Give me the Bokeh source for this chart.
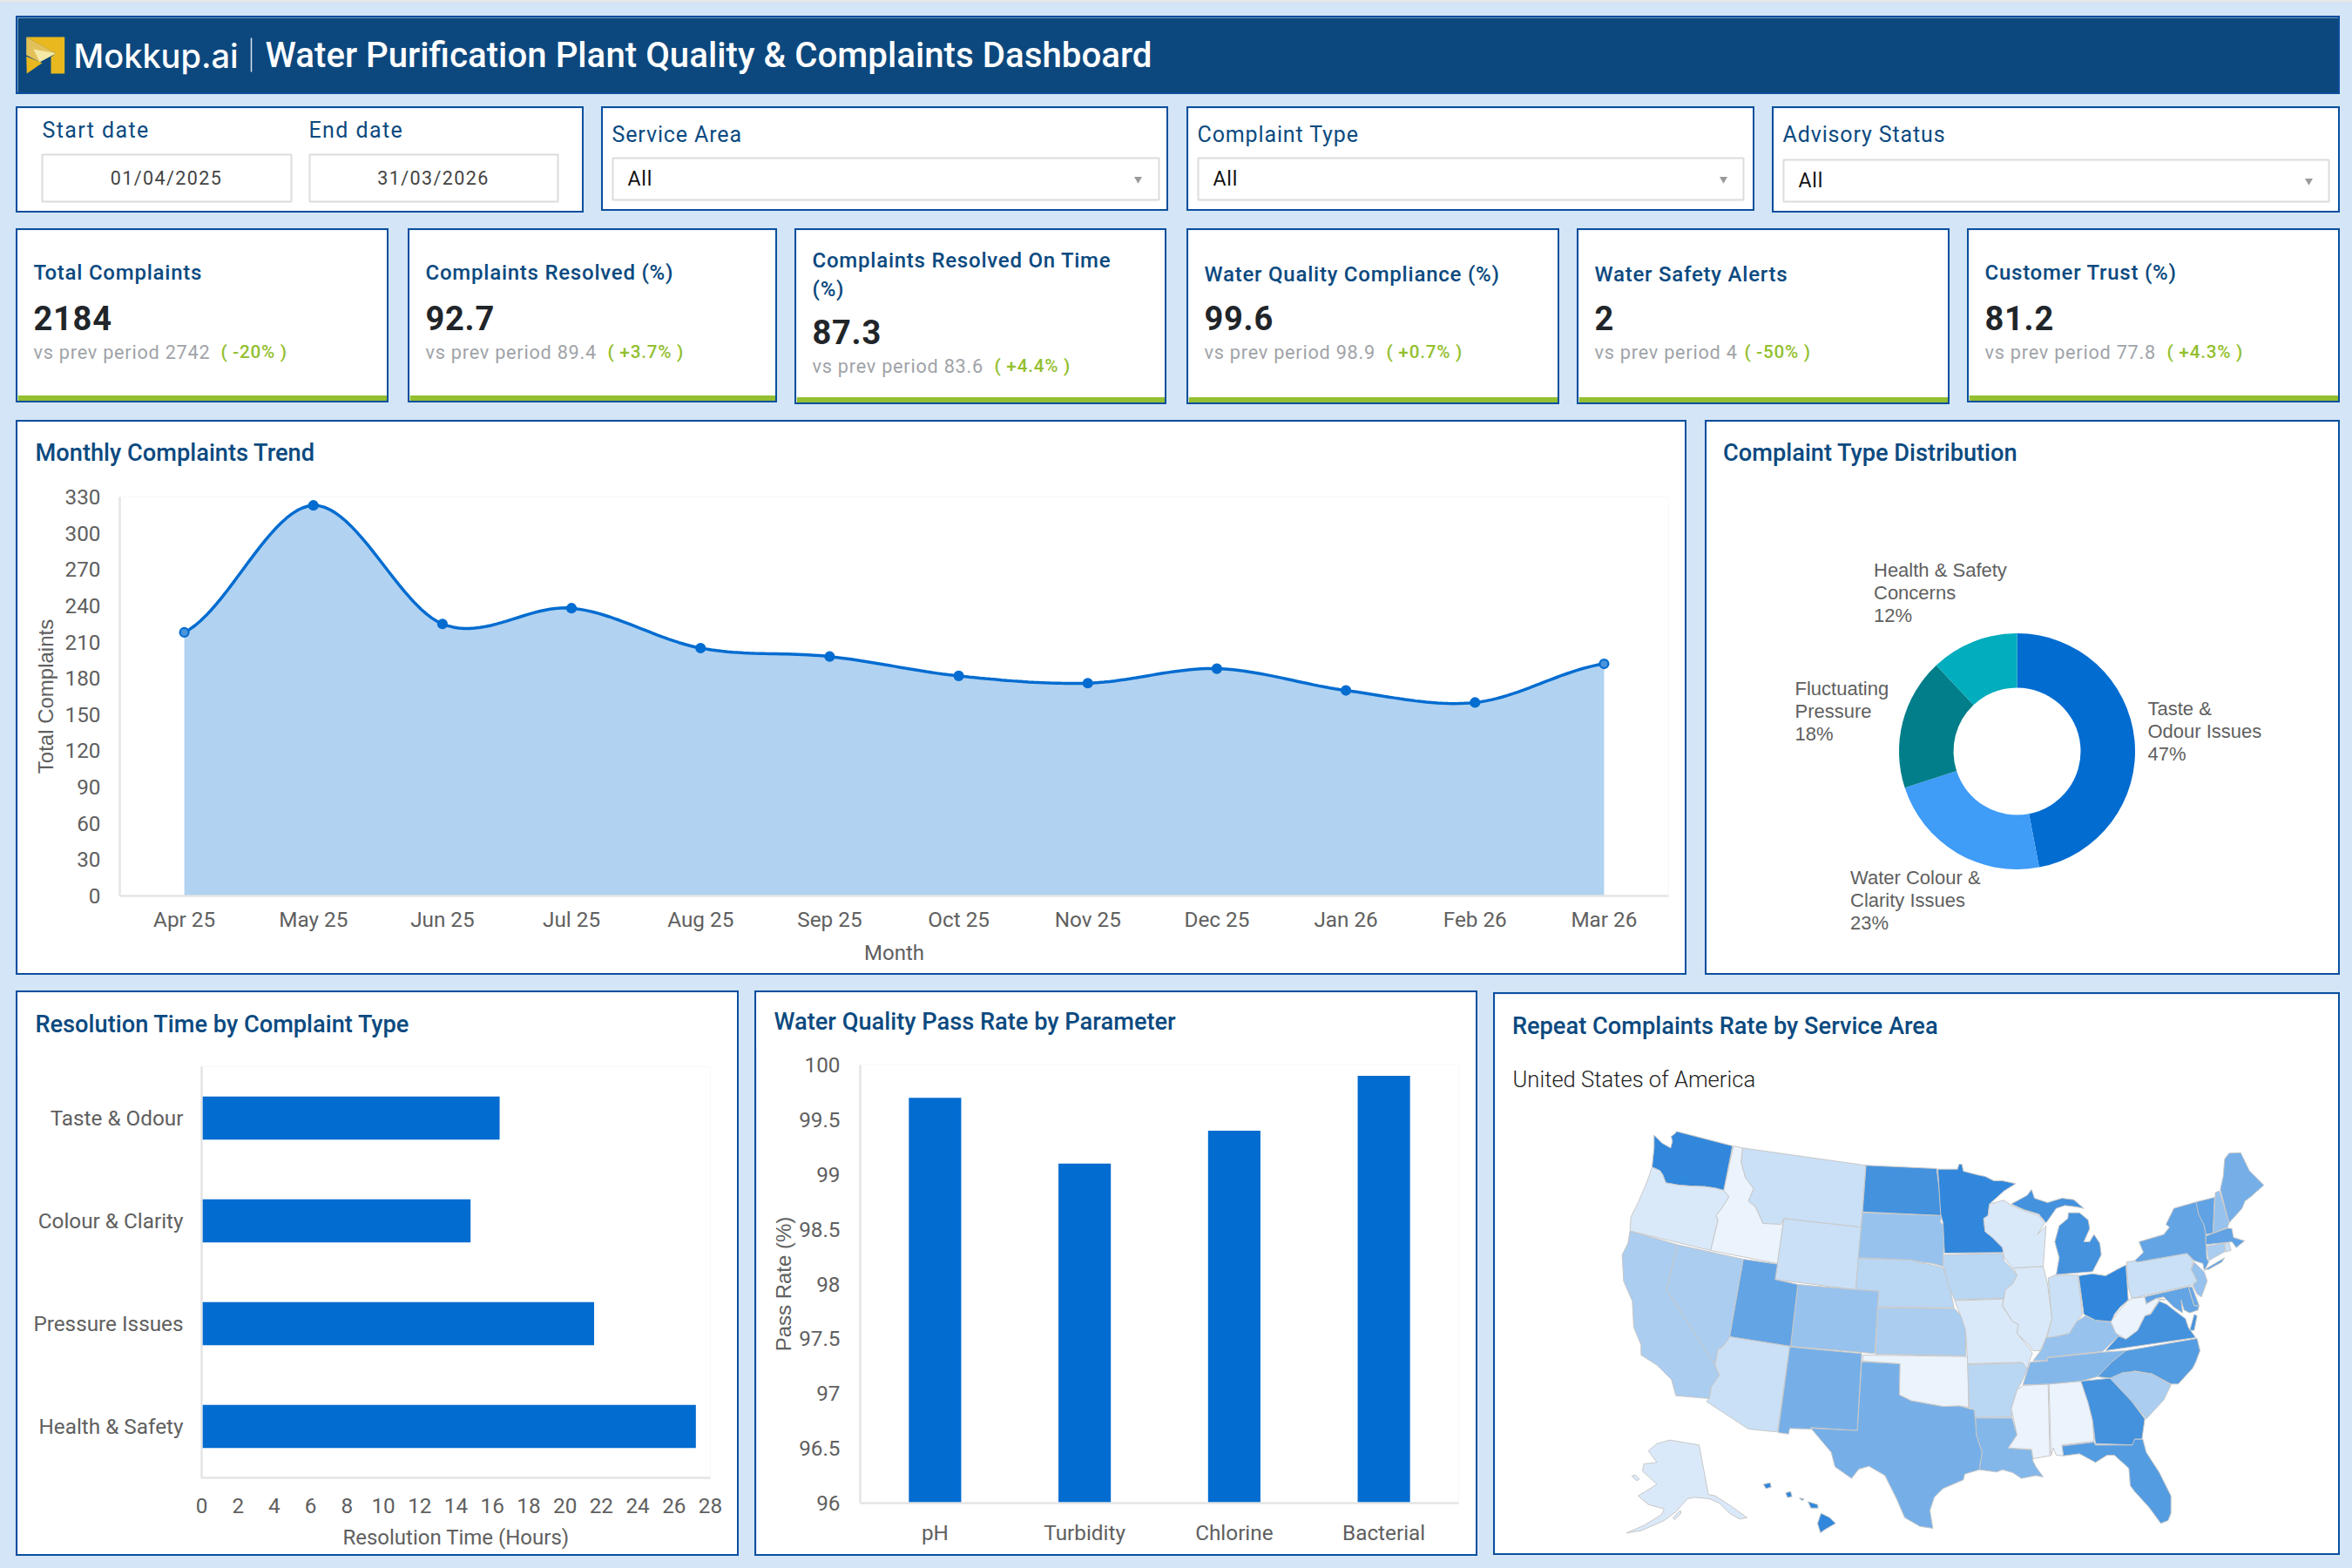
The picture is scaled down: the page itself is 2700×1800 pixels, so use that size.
from bokeh.embed import file_html
from bokeh.resources import INLINE
from bokeh.plotting import figure
from bokeh.models import Label, Range1d, FactorRange, FixedTicker
import math

# ------------------------------------------------ data
months = ["Apr 25","May 25","Jun 25","Jul 25","Aug 25","Sep 25","Oct 25","Nov 25","Dec 25","Jan 26","Feb 26","Mar 26"]
monthly_complaints = [218,323,225,238,205,198,182,176,188,170,160,192]
donut_names = [["Taste &","Odour Issues"],["Water Colour &","Clarity Issues"],["Fluctuating","Pressure"],["Health & Safety","Concerns"]]
donut_share = [47,23,18,12]
res_types = ["Taste & Odour","Colour & Clarity","Pressure Issues","Health & Safety"]
res_hours = [16.4,14.8,21.6,27.2]
params = ["pH","Turbidity","Chlorine","Bacterial"]
pass_rate = [99.7,99.1,99.4,99.9]
kpi_titles = [["Total Complaints"],["Complaints Resolved (%)"],["Complaints Resolved On Time","(%)"],["Water Quality Compliance (%)"],["Water Safety Alerts"],["Customer Trust (%)"]]
kpi_values = ["2184","92.7","87.3","99.6","2","81.2"]
kpi_prev = ["2742","89.4","83.6","98.9","4","77.8"]
kpi_delta = ["-20%","+3.7%","+4.4%","+0.7%","-50%","+4.3%"]

# shade of every state (0 = lightest, 10 = darkest)
state_rate = dict(WA=10,OR=0.9,ID=0,MT=1.8,WY=1.8,ND=9,SD=4.5,NE=2.7,CO=4.5,UT=7.3,NV=3.5,CA=3.5,AZ=1.8,NM=6.3,TX=6.3,OK=0,KS=3.5,
                  MN=10,IA=2.7,MO=0.9,AR=2.7,LA=5.6,MS=0,AL=0,TN=5.6,KY=4.5,IL=0.9,IN=1.8,OH=10,MI=9,WI=0.9,PA=1.8,NY=7.3,NJ=4.5,
                  MD=7.3,DE=7,VA=9,WV=0,NC=8.1,SC=3.5,GA=9,FL=8.1,VT=7.5,NH=4.5,ME=6.3,MA=7.5,CT=3.5,RI=1.8,AK=0.9,HI=10)

# state outlines (map units); WEST block and EAST block differ by a shift
WEST = dict(
 WA=[[(205,68),(232,95),(262,112),(268,90),(264,72),(278,62),(282,55),(475,105),(445,258),(415,250),(380,245),(330,243),(290,240),(245,232),(235,205),(225,190),(198,178),(205,110)]],
 OR=[[(198,178),(225,190),(235,205),(245,232),(290,240),(330,243),(380,245),(415,250),(445,258),(463,280),(438,320),(418,345),(425,360),(400,465),(122,398),(125,350),(150,300),(180,230)]],
 ID=[[(478,105),(510,112),(505,160),(520,215),(548,252),(530,295),(555,315),(580,372),(640,372),(652,358),(630,510),(400,465),(425,360),(418,345),(438,320),(463,280),(445,258)]],
 MT=[[(510,112),(935,172),(918,385),(652,355),(642,375),(580,372),(555,315),(530,295),(548,252),(520,215),(505,160)]],
 WY=[[(652,355),(918,385),(900,600),(622,565)]],
 ND=[[(935,172),(1178,183),(1198,345),(923,332)]],
 SD=[[(923,335),(1198,345),(1190,365),(1205,385),(1200,520),(1165,510),(1125,505),(1090,498),(908,490)]],
 NE=[[(908,492),(1090,498),(1125,508),(1165,515),(1200,525),(1220,575),(1238,662),(975,660),(978,605),(900,600)]],
 CO=[[(700,582),(900,600),(978,605),(965,820),(675,795)]],
 UT=[[(512,495),(630,512),(622,565),(700,582),(675,795),(465,762)]],
 NV=[[(285,445),(512,495),(465,762),(458,775),(440,798),(425,805),(415,860),(248,600)]],
 CA=[[(122,398),(285,445),(248,600),(415,860),(430,895),(402,935),(395,975),(280,965),(265,910),(215,860),(160,825),(160,790),(135,730),(130,640),(100,570),(95,480),(115,440)]],
 AZ=[[(465,762),(672,795),(630,1090),(530,1080),(385,985),(395,975),(402,935),(430,895),(415,860),(425,805),(440,798),(458,775)]],
 NM=[[(672,797),(920,820),(905,1085),(745,1075),(745,1080),(672,1078),(668,1097),(632,1092)]],
 TX=[[(920,848),(1052,855),(1050,962),(1090,982),(1145,992),(1200,1002),(1255,1000),(1310,1015),(1315,1100),(1335,1160),(1325,1220),(1275,1235),(1270,1255),(1200,1285),(1170,1315),(1155,1360),(1165,1422),(1120,1415),(1068,1385),(1040,1320),(1000,1240),(945,1208),(910,1218),(885,1250),(828,1210),(815,1160),(745,1077),(905,1085)]],
 OK=[[(925,825),(1285,830),(1288,1005),(1255,1000),(1200,1002),(1145,992),(1090,982),(1050,962),(1052,855),(922,846)]],
 KS=[[(975,662),(1240,665),(1262,690),(1278,712),(1278,828),(968,822)]],
 AK=[[(215,1130),(260,1118),(360,1135),(392,1305),(415,1310),(470,1345),(525,1385),(500,1390),(465,1370),(430,1335),(395,1320),(345,1315),(320,1320),(280,1365),(240,1395),(160,1430),(110,1438),(170,1412),(230,1375),(240,1355),(185,1340),(150,1310),(175,1295),(215,1270),(165,1225),(170,1200),(215,1195),(185,1155)],
     [(128,1242),(140,1238),(155,1252),(145,1258)],[(270,1385),(295,1360),(298,1370),(275,1392)]],
 HI=[[(582,1270),(605,1265),(608,1280),(590,1285)],[(658,1300),(675,1295),(680,1312),(665,1316)],[(705,1318),(722,1320),(715,1326)],[(735,1330),(768,1340),(770,1352),(745,1352)],[(780,1370),(810,1385),(830,1405),(795,1425),(778,1437),(768,1405)]],
)
EAST = dict(
 MN=[[(12,125),(80,125),(85,108),(95,108),(100,132),(150,145),(175,150),(205,165),(235,165),(280,175),(240,200),(190,245),(185,285),(170,295),(175,340),(200,360),(235,395),(238,412),(35,414),(30,310),(22,280)]],
 IA=[[(35,420),(235,415),(240,440),(265,465),(285,490),(270,520),(245,540),(240,570),(70,575),(50,530),(30,455)]],
 MO=[[(70,578),(238,572),(235,598),(270,650),(290,660),(285,690),(330,745),(338,760),(325,790),(320,815),(300,790),(115,795),(108,680),(95,640)]],
 AR=[[(115,798),(305,792),(320,815),(300,860),(285,885),(265,950),(268,978),(140,980),(138,955),(120,945)]],
 LA=[[(142,982),(268,982),(285,1040),(255,1085),(335,1092),(340,1130),(350,1150),(375,1185),(350,1180),(300,1190),(270,1170),(235,1160),(215,1168),(155,1160),(165,1100),(145,1040)]],
 MS=[[(305,870),(392,865),(398,1112),(340,1122),(335,1090),(255,1085),(285,1040),(265,950),(285,885)]],
 AL=[[(395,865),(505,855),(530,930),(545,990),(550,1062),(440,1075),(445,1112),(420,1110),(410,1085),(402,1112)]],
 TN=[[(305,868),(330,790),(390,785),(390,775),(580,755),(660,750),(615,790),(560,840),(505,855),(395,865)]],
 KY=[[(340,785),(370,745),(385,705),(425,700),(465,690),(490,650),(520,630),(555,645),(605,650),(620,675),(635,700),(580,752),(390,773),(388,783)]],
 IL=[[(272,465),(375,460),(390,520),(405,640),(385,705),(365,750),(340,750),(325,730),(285,690),(290,660),(270,650),(235,595),(245,540),(270,520),(285,490)]],
 IN=[[(392,500),(415,490),(495,490),(510,625),(490,650),(465,690),(425,700),(388,705),(405,640)]],
 OH=[[(497,492),(545,485),(590,492),(630,470),(660,455),(668,575),(640,600),(620,625),(610,650),(555,645),(515,625)]],
 MI=[[(420,488),(430,430),(415,375),(430,320),(460,295),(462,275),(500,275),(530,300),(535,330),(515,375),(535,375),(550,350),(570,380),(575,420),(545,478)],
     [(265,245),(320,215),(335,195),(345,225),(390,240),(440,225),(480,230),(515,260),(490,255),(450,250),(420,260),(385,310),(360,280),(310,265)]],
 WI=[[(190,245),(240,232),(265,250),(310,268),(360,285),(380,310),(355,350),(385,320),(375,460),(270,465),(240,430),(235,395),(200,360),(175,340),(170,295),(185,285)]],
 PA=[[(662,445),(692,440),(700,445),(870,415),(892,440),(885,470),(905,510),(885,525),(680,570),(668,530)]],
 NY=[[(690,440),(720,412),(705,375),(790,350),(810,325),(798,315),(825,260),(905,237),(930,320),(935,350),(938,430),(945,445),(930,475),(925,450),(895,440),(870,415),(700,445)],
     [(932,470),(1000,430),(990,445),(945,470)]],
 NJ=[[(895,445),(930,480),(940,510),(920,565),(905,555),(890,525),(905,510),(885,470)]],
 MD=[[(722,565),(875,530),(895,595),(912,595),(908,610),(880,620),(860,610),(850,575),(855,620),(825,600),(790,565),(765,570),(725,590)]],
 DE=[[(875,530),(888,530),(912,595),(895,595)]],
 VA=[[(590,750),(635,700),(660,710),(700,680),(725,630),(745,625),(775,580),(800,590),(825,610),(865,640),(875,670),(900,705)],
     [(880,680),(895,625),(905,630),(895,680)]],
 WV=[[(608,650),(630,620),(665,580),(680,570),(725,565),(730,590),(765,570),(795,575),(775,575),(745,622),(725,630),(700,680),(660,710),(625,690)]],
 NC=[[(562,840),(610,790),(660,750),(905,708),(915,750),(900,790),(890,810),(840,865),(815,865),(750,830),(690,820),(610,845)]],
 SC=[[(605,845),(650,825),(690,822),(750,830),(815,868),(790,920),(730,985),(680,925)]],
 GA=[[(505,855),(605,845),(680,925),(725,985),(715,1055),(690,1055),(690,1075),(555,1070),(545,990),(530,930)]],
 FL=[[(440,1078),(550,1065),(555,1075),(682,1075),(690,1055),(718,1055),(730,1100),(775,1170),(815,1250),(815,1310),(805,1335),(780,1345),(740,1290),(690,1235),(675,1215),(670,1155),(620,1110),(595,1110),(555,1135),(500,1105),(445,1112)]],
 VT=[[(902,238),(965,222),(960,345),(935,350),(930,320),(910,280)]],
 NH=[[(968,205),(982,200),(1015,310),(1010,325),(960,345)]],
 ME=[[(985,195),(995,150),(1000,90),(1015,70),(1055,68),(1085,130),(1135,180),(1090,220),(1070,235),(1060,260),(1015,310)]],
 MA=[[(935,355),(1010,328),(1025,330),(1030,360),(1068,372),(1040,395),(1025,375),(1000,378),(935,385)]],
 CT=[[(938,390),(998,380),(1002,408),(945,440)]],
 RI=[[(1000,380),(1015,378),(1022,405),(1003,410)]],
)

# ------------------------------------------------ style
BG = "#d3e5f6"; EDGE = "#0b4f9e"; NAVY = "#0c4a80"; AXIS = "#e4e4e4"; TICK = "#606060"
BLUE = "#026cd0"; GREEN = "#93bf30"; GREY = "#a0a3a8"
TITLE_FONT = "Roboto Medium"; BODY = "Roboto"; SANS = "Liberation Sans"
TICK_SIZE = "24.3px"; TITLE_SIZE = 27.2
B = 2
kids = []

def panel(X0, Y0, X1, Y1, L=0, R=0, T=0, B2=0, xr=None, yr=None, bg="white", axes=False, edge=EDGE, spacing=None):
    """Card with outer box X0..X1, Y0..Y1 in target pixels. Text cards use target pixels as data."""
    x0, y0, x1, y1 = X0+B, Y0+B, X1-B, Y1-B
    w, h = int(x1-x0), int(y1-y0)
    kw = {}
    if not axes:
        kw = dict(x_axis_type=None, y_axis_type=None)
    p = figure(width=w, height=h, output_backend="svg", toolbar_location=None,
               x_range=xr if xr is not None else Range1d(x0, x0+w),
               y_range=yr if yr is not None else Range1d(y0+h, y0),
               min_border_left=L, min_border_right=R, min_border_top=T, min_border_bottom=B2,
               background_fill_color=bg, border_fill_color=bg, outline_line_color=None, **kw)
    p.grid.visible = False
    st = {"position": "absolute", "left": f"{x0}px", "top": f"{y0}px"}
    if edge:
        st["box-shadow"] = f"0 0 0 {B}px {edge}"
    if spacing:
        st["letter-spacing"] = f"{spacing}px"
    p.styles = st
    kids.append(p)
    return p

def txt(p, x, y, s, font=BODY, size=23, color=NAVY, style="normal", align="left"):
    p.add_layout(Label(x=x, y=y, text=s, text_font=font, text_font_size=f"{size}px",
                       text_font_style=style, text_color=color, text_align=align, text_baseline="middle"))

def title_strip(X0, Y0, X1, Y1, x, y, s):
    st = panel(X0, Y0, X1, Y1, edge=None)
    txt(st, x, y, s, font=TITLE_FONT, size=TITLE_SIZE)

def axis_style(ax, standoff):
    ax.axis_line_color = AXIS; ax.axis_line_width = 2.5
    ax.major_tick_line_color = None; ax.minor_tick_line_color = None
    ax.major_label_text_font = BODY; ax.major_label_text_font_size = TICK_SIZE
    ax.major_label_text_color = TICK; ax.major_label_standoff = standoff

def axis_title(ax, s, font, standoff, color=TICK, size="24px"):
    ax.axis_label = s; ax.axis_label_text_font = font; ax.axis_label_text_font_size = size
    ax.axis_label_text_font_style = "normal"; ax.axis_label_text_color = color; ax.axis_label_standoff = standoff

# ------------------------------------------------ header
hd = panel(18, 18, 2686, 108, bg="#0c487e")
hd.patch([29.7,73.7,73.7,58,58,63.7,49.7], [42,42,84,84,65,60.7,53.3], fill_color="#e8b81e", line_color=None)
hd.patch([29.7,48,30.3], [64.3,71.7,84], fill_color="#e8b81e", line_color=None)
hd.patch([29.7,63.7,45,29.7], [42,60.7,70.7,62.7], fill_color="#e3c15a", line_color=None)
hd.patch([38,63.7,45], [56,60.7,70.7], fill_color="#f5e9a8", line_color=None)
txt(hd, 84, 63, "Mokkup.ai", font="Inter Medium", size=38, color="white")
hd.segment([288],[43],[288],[82], line_color="#d9e4ee", line_width=1.5)
txt(hd, 304, 63, "Water Purification Plant Quality & Complaints Dashboard", font=TITLE_FONT, size=40.2, color="white")

# ------------------------------------------------ filters
f1 = panel(18, 122, 670, 244, spacing=1.4)
txt(f1, 48, 148.5, "Start date", size=25)
txt(f1, 354, 148.5, "End date", size=25)
for xa, xb, s in [(48,334,"01/04/2025"),(355,640,"31/03/2026")]:
    f1.quad(left=[xa], right=[xb], top=[177], bottom=[231], fill_color="white", line_color="#dcdcdc", line_width=2)
    txt(f1, (xa+xb)/2-7.5, 204, s, size=21.5, color="#444444", align="center")
for X0, X1, Y1, lab, bx0, bx1, by, ax in [(690,1341,242,"Service Area",703,1330,0,1306),
                                          (1362,2014,242,"Complaint Type",1375,2001,0,1978),
                                          (2034,2686,244,"Advisory Status",2047,2673,2,2650)]:
    f = panel(X0, 122, X1, Y1, spacing=0.87)
    txt(f, bx0-1, 154, lab, size=25)
    f.quad(left=[bx0], right=[bx1], top=[181+by], bottom=[229+by], fill_color="white", line_color="#dcdcdc", line_width=2)
    txt(f, bx0+17, 205+by, "All", size=23, color="#111111")
    f.scatter([ax], [205+by], marker="inverted_triangle", size=9, fill_color="#9a9a9a", line_color=None)

# ------------------------------------------------ KPI cards
kpi_boxes = [(18,446,462),(468,892,462),(912,1339,464),(1362,1790,464),(1810,2238,464),(2258,2686,462)]
kpi_text_x = [38,488,932,1382,1830,2278]
kpi_delta_x = [253,697,1141,1591,2002,2487]
for i, (X0, X1, Y1) in enumerate(kpi_boxes):
    c = panel(X0, 262, X1, Y1, spacing=0.75)
    c.quad(left=[X0+2], right=[X1-2], top=[Y1-8.5], bottom=[Y1-2], fill_color=GREEN, line_color=None)
    tx = kpi_text_x[i]
    if len(kpi_titles[i]) == 2:
        txt(c, tx, 298.5, kpi_titles[i][0], font=TITLE_FONT, size=24)
        txt(c, tx, 331, kpi_titles[i][1], font=TITLE_FONT, size=24)
        vy, sy = 380, 419.5
    else:
        ty = 314.5 if i in (3,4) else 312.5
        txt(c, tx, ty, kpi_titles[i][0], font=TITLE_FONT, size=24)
        vy, sy = 364, 403.5
    txt(c, tx, vy, kpi_values[i], size=38, color="#212529", style="bold")
    txt(c, tx, sy, f"vs prev period {kpi_prev[i]}", size=21.7, color=GREY)
    txt(c, kpi_delta_x[i], sy, f"( {kpi_delta[i]} )", font=TITLE_FONT, size=20.7, color=GREEN)

# ------------------------------------------------ monthly trend
def smooth(ys, k=1/6, n=24):
    """Cubic rendering of the values through each point, as the chart's 'smooth' line."""
    xs_out, ys_out = [], []
    m = len(ys)
    for i in range(m-1):
        y0 = ys[max(i-1,0)]; y1 = ys[i]; y2 = ys[i+1]; y3 = ys[min(i+2,m-1)]
        c1 = y1+(y2-y0)*k; c2 = y2-(y3-y1)*k
        for j in range(n):
            t = j/n; u = 1-t
            xs_out.append(i+0.5+t)
            ys_out.append(u*u*u*y1+3*u*u*t*c1+3*u*t*t*c2+t*t*t*y2)
    xs_out.append(m-0.5); ys_out.append(ys[-1])
    return xs_out, ys_out

lp = panel(18, 482, 1936, 1119, L=117, R=19, T=86, B2=89, axes=True,
           xr=FactorRange(*months, factor_padding=0, range_padding=0), yr=Range1d(0, 330))
axis_style(lp.xaxis[0], 6); axis_style(lp.yaxis[0], 16)
lp.yaxis.ticker = FixedTicker(ticks=list(range(0, 331, 30)))
axis_title(lp.xaxis[0], "Month", BODY, 7)
axis_title(lp.yaxis[0], "Total Complaints", SANS, 6)
sx, sy = smooth(monthly_complaints)
lp.varea(x=sx, y1=[0]*len(sx), y2=sy, fill_color="#b1d2f1")
lp.line(sx, sy, line_color=BLUE, line_width=3.5)
marker_fill = [BLUE]*len(months)
marker_fill[0] = marker_fill[-1] = "#4a94dc"
lp.scatter(months, monthly_complaints, size=10, fill_color=marker_fill, line_color=BLUE, line_width=2.2)
title_strip(18, 482, 1936, 552, 40, 519, "Monthly Complaints Trend")

# ------------------------------------------------ donut
CX, CY = 2315, 862
dp = panel(1957, 482, 2686, 1119, xr=Range1d(1959-CX, 2684-CX), yr=Range1d(CY-1117, CY-484))
donut_colors = [BLUE, "#3f9cf7", "#017e89", "#02adbd"]
a = math.pi/2
for share, col in zip(donut_share, donut_colors):
    b = a-2*math.pi*share/100
    dp.annular_wedge([0],[0], inner_radius=73, outer_radius=135.5, inner_radius_units="screen", outer_radius_units="screen",
                     start_angle=b, end_angle=a, fill_color=col, line_color=None)
    a = b
def dtxt(x, y, s):
    dp.add_layout(Label(x=x-CX, y=CY-y, text=s, text_font=SANS, text_font_size="22px", text_color="#5f5f5f",
                        text_align="left", text_baseline="middle"))
donut_xy = [(2465,812.5),(2123.5,1006.5),(2060,789.5),(2150.5,653.5)]
for (nm, share, (x, y)) in zip(donut_names, donut_share, donut_xy):
    dtxt(x, y, nm[0]); dtxt(x, y+26, nm[1]); dtxt(x, y+52, f"{share}%")
dp.add_layout(Label(x=1977.5-CX, y=CY-519, text="Complaint Type Distribution", text_font=TITLE_FONT, text_font_size=f"{TITLE_SIZE}px",
                    text_color=NAVY, text_baseline="middle"))

# ------------------------------------------------ resolution time
hp = panel(18, 1137, 848, 1786, L=211, R=31, T=85, B2=88, axes=True,
           xr=Range1d(0, 28), yr=FactorRange(*res_types[::-1], factor_padding=0, range_padding=0))
axis_style(hp.xaxis[0], 17); axis_style(hp.yaxis[0], 15)
hp.xaxis.ticker = FixedTicker(ticks=list(range(0, 29, 2)))
axis_title(hp.xaxis[0], "Resolution Time (Hours)", BODY, 11)
hp.hbar(y=res_types, right=res_hours, height=0.42, fill_color=BLUE, line_color=None)
title_strip(18, 1137, 848, 1212, 40, 1175, "Resolution Time by Complaint Type")

# ------------------------------------------------ pass rate
cp = panel(866, 1137, 1696, 1786, L=119, R=20, T=83, B2=59, axes=True,
           xr=FactorRange(*params, factor_padding=0, range_padding=0), yr=Range1d(96, 100))
axis_style(cp.xaxis[0], 13); axis_style(cp.yaxis[0], 17)
cp.yaxis.ticker = FixedTicker(ticks=[96,96.5,97,97.5,98,98.5,99,99.5,100])
axis_title(cp.yaxis[0], "Pass Rate (%)", SANS, 1)
cp.vbar(x=params, top=pass_rate, bottom=96, width=0.35, fill_color=BLUE, line_color=None)
title_strip(866, 1137, 1696, 1205, 888, 1172.5, "Water Quality Pass Rate by Parameter")

# ------------------------------------------------ map
def shade(v):
    lo = (0xeb,0xf3,0xfc); hi = (0x31,0x87,0xdb)
    return "#%02x%02x%02x" % tuple(round(l+(h-l)*v/10) for l, h in zip(lo, hi))
mp = panel(1714, 1139, 2686, 1785, xr=Range1d((1716-1830)*3, (2684-1830)*3), yr=Range1d((1783-1280)*3, (1141-1280)*3))
xs, ys, cs = [], [], []
for st, polys in WEST.items():
    for poly in polys:
        xs.append([q[0] for q in poly]); ys.append([q[1] for q in poly]); cs.append(shade(state_rate[st]))
for st, polys in EAST.items():
    for poly in polys:
        xs.append([q[0]+1170 for q in poly]); ys.append([q[1]+60 for q in poly]); cs.append(shade(state_rate[st]))
mp.patches(xs, ys, fill_color=cs, line_color="#c8c8c8", line_width=1)
def mtxt(x, y, s, font, size, color):
    mp.add_layout(Label(x=(x-1830)*3, y=(y-1280)*3, text=s, text_font=font, text_font_size=f"{size}px",
                        text_color=color, text_baseline="middle"))
mtxt(1735.5, 1177.5, "Repeat Complaints Rate by Service Area", TITLE_FONT, TITLE_SIZE, NAVY)
mtxt(1736, 1238, "United States of America", "Roboto Light", 25.6, "#222222")

html = file_html(kids, INLINE)
css = f"<style>html,body{{background:linear-gradient({'#e8e8e8'} 2px,{BG} 2px) no-repeat;background-color:{BG};min-height:1784px;}}</style>"
html = html.replace("<head>", "<head>"+css, 1)
open("out.html", "w").write(html)
